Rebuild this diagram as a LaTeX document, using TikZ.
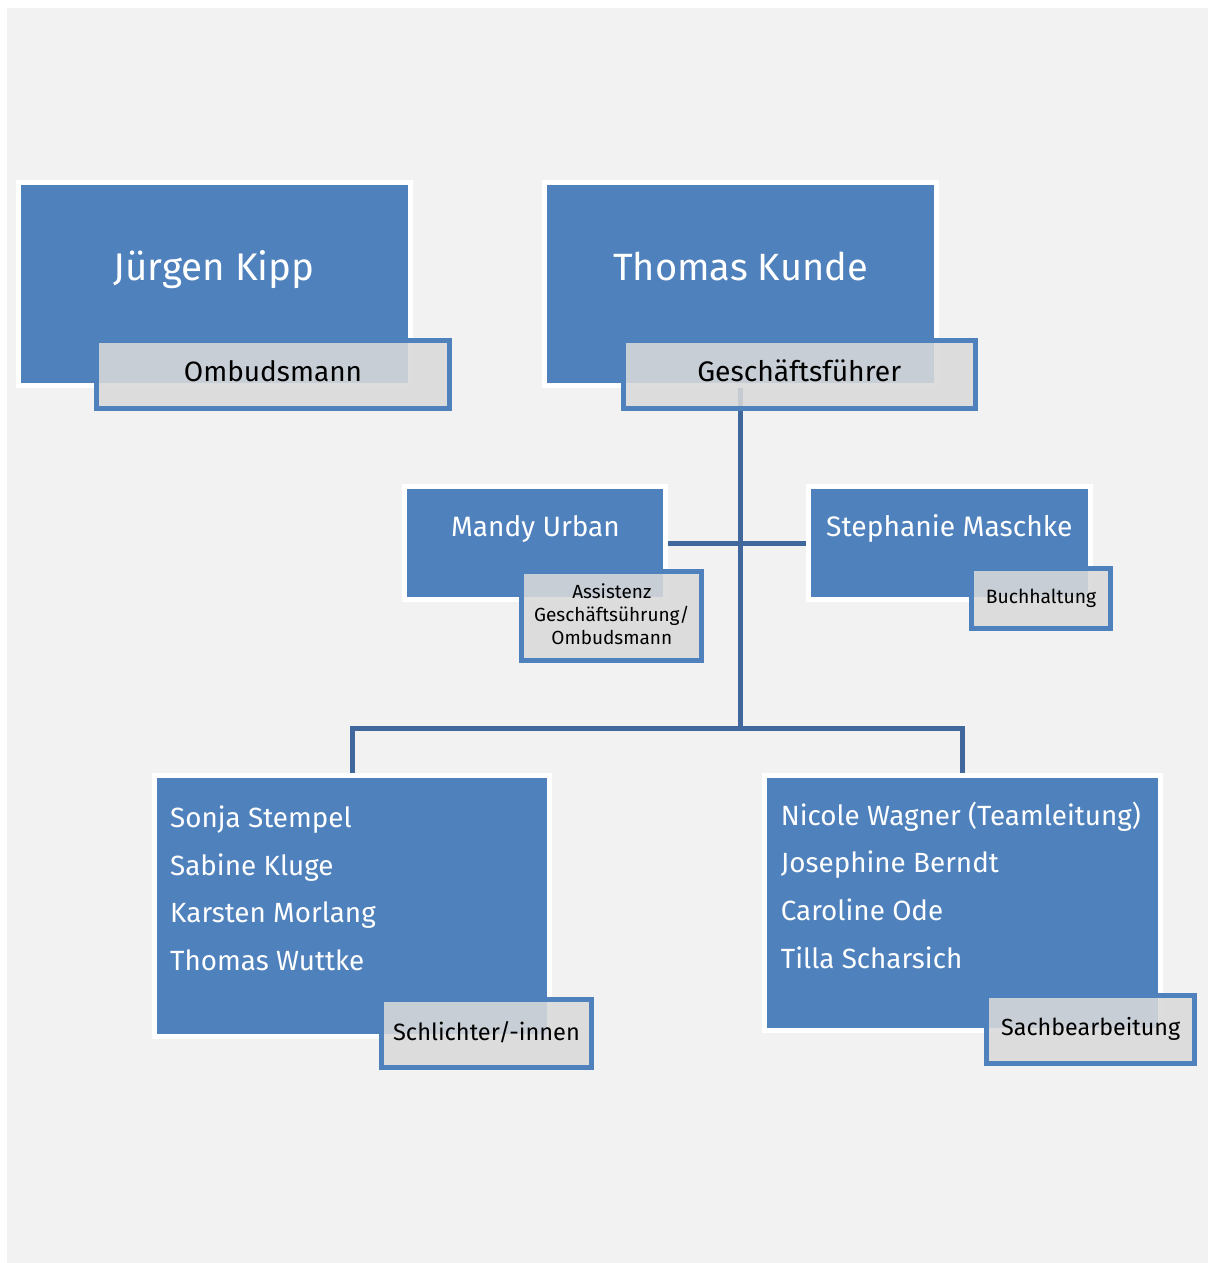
\documentclass[tikz,border=0pt]{standalone}
\usepackage{fontspec}
\setmainfont{Fira Sans}
\definecolor{boxblue}{RGB}{79,129,189}
\definecolor{linkblue}{RGB}{64,104,156}
\definecolor{labgray}{RGB}{217,217,217}
\definecolor{bggray}{RGB}{242,242,242}
\begin{document}
\begin{tikzpicture}[x=1pt,y=-1pt,
  person/.style={rectangle,draw=white,line width=5pt,fill=boxblue,inner sep=0pt},
  rolebox/.style={rectangle,draw=boxblue,line width=5pt,fill=labgray,fill opacity=0.88,draw opacity=1,inner sep=0pt},
  whitetxt/.style={text=white,anchor=base,inner sep=0pt},
  listtxt/.style={text=white,anchor=base west,inner sep=0pt},
  roletxt/.style={text=black,anchor=base,inner sep=0pt},
  link/.style={draw=linkblue,line width=5pt}]
\useasboundingbox (0,0) rectangle (1208,1263);
\fill[white] (0,0) rectangle (1208,1263);
\fill[bggray] (7,8) rectangle (1208,1263);

% person boxes
\node[person,minimum width=392pt,minimum height=202.5pt] (kipp) at (214,283.75) {};
\node[person,minimum width=392pt,minimum height=202.5pt] (kunde) at (740.5,283.75) {};
\node[person,minimum width=260.7pt,minimum height=113pt] (urban) at (534.8,543) {};
\node[person,minimum width=282.3pt,minimum height=113pt] (maschke) at (949.3,543) {};
\node[person,minimum width=394.7pt,minimum height=261.6pt] (schl) at (352.1,906) {};
\node[person,minimum width=395.4pt,minimum height=255pt] (sach) at (962.5,902.7) {};

% connectors
\coordinate (junction) at (740.5,728);
\draw[link] (kunde.south) -- (junction);
\draw[link] (urban.east) -- (maschke.west);
\draw[link] (schl.north) |- (junction) -| (sach.north);

% names
\node[whitetxt,font=\fontsize{38.5}{46}\selectfont] (tkipp) at (214,280) {Jürgen Kipp};
\node[whitetxt,font=\fontsize{38}{46}\selectfont] (tkunde) at (740.5,280) {Thomas Kunde};
\node[whitetxt,font=\fontsize{28}{34}\selectfont] (turban) at (535.5,536.7) {Mandy Urban};
\node[whitetxt,font=\fontsize{28.2}{34}\selectfont] (tmaschke) at (949.3,536.7) {Stephanie Maschke};

\begin{scope}[font=\fontsize{27.8}{33}\selectfont]
\node[listtxt] (s1) at (170,827.7) {Sonja Stempel};
\node[listtxt] (s2) at (170,875) {Sabine Kluge};
\node[listtxt] (s3) at (170,922.7) {Karsten Morlang};
\node[listtxt] (s4) at (170,970.7) {Thomas Wuttke};
\node[listtxt] (n1) at (780.7,825) {Nicole Wagner (Teamleitung)};
\node[listtxt] (n2) at (780.7,872.7) {Josephine Berndt};
\node[listtxt] (n3) at (780.7,920.7) {Caroline Ode};
\node[listtxt] (n4) at (780.7,968.3) {Tilla Scharsich};
\end{scope}

% role labels
\node[rolebox,minimum width=353pt,minimum height=67.7pt] (rkipp) at (273,374.3) {};
\node[rolebox,minimum width=352.3pt,minimum height=68pt] (rkunde) at (799.3,374.2) {};
\node[rolebox,minimum width=180pt,minimum height=89.6pt] (rurban) at (611.8,616) {};
\node[rolebox,minimum width=139pt,minimum height=60pt] (rmaschke) at (1041,598.2) {};
\node[rolebox,minimum width=209.4pt,minimum height=68pt] (rschl) at (486.5,1033.5) {};
\node[rolebox,minimum width=207.7pt,minimum height=67.7pt] (rsach) at (1090.7,1029.3) {};

\node[roletxt,font=\fontsize{28}{34}\selectfont] (lkipp) at (273,381.7) {Ombudsmann};
\node[roletxt,font=\fontsize{28.3}{34}\selectfont] (lkunde) at (799.3,381.7) {Geschäftsführer};
\begin{scope}[font=\fontsize{19}{23}\selectfont]
\node[roletxt] (lu1) at (611.8,598) {Assistenz};
\node[roletxt] (lu2) at (611.8,621.7) {Geschäftsührung/};
\node[roletxt] (lu3) at (611.8,644) {Ombudsmann};
\end{scope}
\node[roletxt,font=\fontsize{19.3}{24}\selectfont] (lmaschke) at (1041,603.3) {Buchhaltung};
\node[roletxt,font=\fontsize{23.6}{28}\selectfont] (lschl) at (486.5,1040) {Schlichter/-innen};
\node[roletxt,font=\fontsize{23.3}{28}\selectfont] (lsach) at (1090.7,1035) {Sachbearbeitung};
\end{tikzpicture}
\end{document}
